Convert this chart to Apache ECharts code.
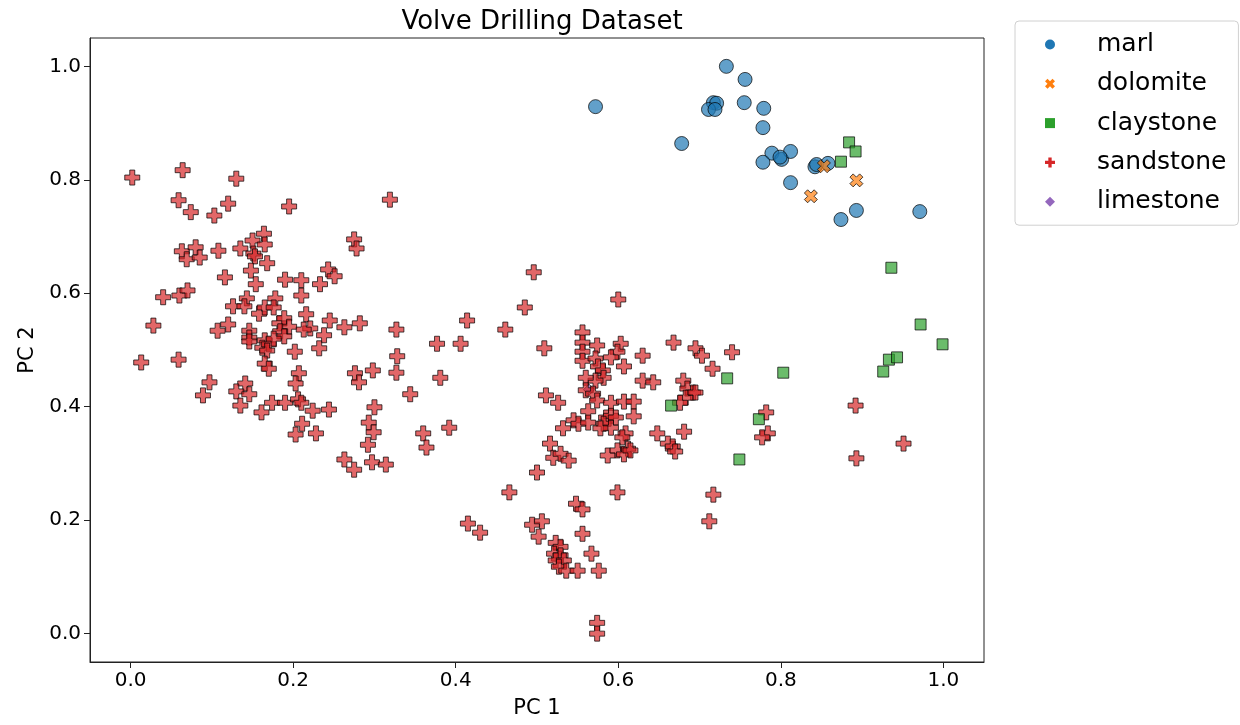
<!DOCTYPE html>
<html>
<head>
<meta charset="utf-8">
<script src="https://cdn.jsdelivr.net/npm/echarts@6/dist/echarts.min.js"></script>
<style>
html,body{margin:0;padding:0;background:#fff;}
#chart{width:1240px;height:725px;}
</style>
</head>
<body>
<div id="chart"></div>
<script>
const categories = ['marl', 'dolomite', 'claystone', 'sandstone', 'limestone'];
const tickValues = [0, 0.2, 0.4, 0.6, 0.8, 1.0];

const marlPoints = [
  [0.572,0.929],[0.678,0.864],[0.733,1.0],[0.756,0.977],[0.717,0.936],[0.721,0.935],
  [0.711,0.924],[0.719,0.924],[0.755,0.936],[0.779,0.926],[0.778,0.892],[0.789,0.847],
  [0.801,0.836],[0.812,0.850],[0.778,0.831],[0.799,0.840],[0.842,0.823],[0.844,0.827],
  [0.858,0.829],[0.812,0.795],[0.874,0.730],[0.893,0.746],[0.971,0.744]
];
const dolomitePoints = [[0.853,0.824],[0.893,0.799],[0.837,0.771]];
const claystonePoints = [
  [0.884,0.866],[0.892,0.850],[0.874,0.832],[0.936,0.645],[0.972,0.545],[0.999,0.510],
  [0.933,0.483],[0.943,0.487],[0.926,0.462],[0.803,0.460],[0.734,0.450],[0.773,0.378],
  [0.749,0.307],[0.665,0.402]
];
const limestonePoints = [[0.564,0.430]];
const sandstonePoints = [
  [0.002,0.804],[0.064,0.817],[0.130,0.802],[0.059,0.764],[0.074,0.743],[0.120,0.758],
  [0.103,0.737],[0.195,0.753],[0.319,0.765],[0.164,0.705],[0.150,0.693],[0.165,0.686],
  [0.275,0.695],[0.278,0.679],[0.063,0.674],[0.080,0.681],[0.108,0.675],[0.135,0.679],
  [0.069,0.660],[0.085,0.663],[0.151,0.670],[0.153,0.665],[0.168,0.653],[0.148,0.640],
  [0.116,0.628],[0.154,0.616],[0.190,0.624],[0.210,0.623],[0.233,0.616],[0.243,0.642],
  [0.251,0.630],[0.210,0.596],[0.040,0.593],[0.060,0.596],[0.070,0.605],[0.126,0.577],
  [0.143,0.591],[0.140,0.577],[0.158,0.564],[0.165,0.575],[0.178,0.591],[0.176,0.575],
  [0.216,0.563],[0.245,0.552],[0.263,0.540],[0.282,0.547],[0.028,0.543],[0.120,0.545],
  [0.183,0.547],[0.189,0.556],[0.195,0.541],[0.221,0.538],[0.213,0.536],[0.107,0.534],
  [0.146,0.534],[0.184,0.533],[0.189,0.524],[0.146,0.522],[0.146,0.515],[0.165,0.517],
  [0.162,0.504],[0.170,0.510],[0.176,0.520],[0.168,0.499],[0.238,0.526],[0.202,0.497],
  [0.232,0.503],[0.013,0.478],[0.059,0.483],[0.165,0.476],[0.170,0.467],[0.207,0.459],
  [0.203,0.441],[0.097,0.443],[0.089,0.420],[0.141,0.441],[0.130,0.427],[0.146,0.422],
  [0.135,0.402],[0.161,0.390],[0.174,0.407],[0.190,0.407],[0.206,0.413],[0.210,0.407],
  [0.224,0.393],[0.244,0.395],[0.211,0.370],[0.203,0.351],[0.228,0.353],[0.276,0.459],
  [0.281,0.443],[0.298,0.464],[0.300,0.399],[0.293,0.372],[0.299,0.355],[0.292,0.333],
  [0.263,0.307],[0.275,0.289],[0.297,0.302],[0.314,0.298],[0.496,0.637],[0.414,0.552],
  [0.461,0.536],[0.327,0.536],[0.377,0.511],[0.406,0.511],[0.328,0.489],[0.327,0.460],
  [0.381,0.451],[0.344,0.422],[0.360,0.353],[0.364,0.328],[0.392,0.363],[0.485,0.575],
  [0.600,0.589],[0.509,0.503],[0.556,0.531],[0.556,0.513],[0.556,0.497],[0.556,0.481],
  [0.574,0.508],[0.603,0.511],[0.599,0.497],[0.591,0.487],[0.607,0.471],[0.572,0.485],
  [0.575,0.471],[0.581,0.464],[0.582,0.451],[0.572,0.446],[0.560,0.451],[0.560,0.429],
  [0.569,0.423],[0.630,0.490],[0.668,0.513],[0.695,0.503],[0.703,0.490],[0.716,0.467],
  [0.630,0.446],[0.643,0.443],[0.680,0.446],[0.685,0.432],[0.692,0.425],[0.683,0.416],
  [0.676,0.407],[0.511,0.420],[0.526,0.407],[0.574,0.411],[0.591,0.407],[0.607,0.409],
  [0.619,0.409],[0.563,0.392],[0.545,0.376],[0.551,0.370],[0.563,0.372],[0.532,0.362],
  [0.585,0.381],[0.591,0.384],[0.597,0.381],[0.582,0.370],[0.591,0.363],[0.578,0.362],
  [0.619,0.383],[0.609,0.353],[0.605,0.346],[0.648,0.353],[0.681,0.356],[0.661,0.335],
  [0.667,0.330],[0.670,0.321],[0.516,0.335],[0.520,0.310],[0.529,0.317],[0.539,0.305],
  [0.587,0.314],[0.599,0.323],[0.612,0.326],[0.607,0.316],[0.615,0.323],[0.500,0.284],
  [0.740,0.496],[0.695,0.425],[0.782,0.390],[0.784,0.353],[0.777,0.346],[0.892,0.402],
  [0.951,0.335],[0.893,0.309],[0.717,0.245],[0.712,0.198],[0.466,0.249],[0.599,0.249],
  [0.415,0.194],[0.430,0.178],[0.548,0.229],[0.556,0.219],[0.494,0.192],[0.506,0.198],
  [0.502,0.171],[0.556,0.176],[0.567,0.141],[0.576,0.111],[0.523,0.160],[0.529,0.153],
  [0.521,0.141],[0.529,0.138],[0.523,0.129],[0.533,0.129],[0.527,0.118],[0.536,0.111],
  [0.550,0.111],[0.574,0.019],[0.574,0.000]
];

const FONT = 'DejaVu Sans';
const colors = {
  marl: '#1f77b4', dolomite: '#ff7f0e', claystone: '#2ca02c',
  sandstone: '#d62728', limestone: '#9467bd'
};
const plusPath = 'path://M1,0L2,0L2,1L3,1L3,2L2,2L2,3L1,3L1,2L0,2L0,1L1,1Z';
const xPath = 'path://M1,0L2,1L3,0L4,1L3,2L4,3L3,4L2,3L1,4L0,3L1,2L0,1Z';
const symbols = {
  marl: ['circle', 14],
  dolomite: [xPath, 13],
  claystone: ['rect', 11],
  sandstone: [plusPath, 15],
  limestone: ['diamond', 11]
};
const dataByName = {
  marl: marlPoints, dolomite: dolomitePoints, claystone: claystonePoints,
  sandstone: sandstonePoints, limestone: limestonePoints
};
const zOrder = { limestone: 1, sandstone: 2, marl: 3, dolomite: 4, claystone: 5 };

const series = categories.map(name => ({
  name: name,
  type: 'scatter',
  data: dataByName[name],
  symbol: symbols[name][0],
  symbolSize: symbols[name][1],
  z: zOrder[name] + 2,
  itemStyle: {
    color: colors[name],
    opacity: 0.7,
    borderColor: '#000',
    borderWidth: 1
  },
  emphasis: { disabled: true }
}));

const axisCommon = {
  type: 'value',
  min: -0.05,
  max: 1.05,
  splitLine: { show: false },
  axisLine: { show: true, onZero: false, lineStyle: { color: '#222', width: 1 } },
  axisTick: { show: true, inside: false, length: 6, lineStyle: { color: '#222' }, customValues: tickValues },
  axisLabel: {
    customValues: tickValues,
    formatter: v => v.toFixed(1),
    fontFamily: FONT, fontSize: 20, color: '#000', margin: 9
  },
  nameLocation: 'middle',
  nameTextStyle: { fontFamily: FONT, fontSize: 21, color: '#000' }
};

const chart = echarts.init(document.getElementById('chart'), null, { renderer: 'canvas' });
chart.setOption({
  animation: false,
  backgroundColor: '#fff',
  title: {
    text: 'Volve Drilling Dataset',
    left: 537, top: 4,
    textAlign: 'center',
    textStyle: { fontFamily: FONT, fontSize: 26, fontWeight: 'normal', color: '#000' }
  },
  grid: {
    left: 90, right: 256, top: 38, bottom: 63,
    show: true, borderColor: '#222', borderWidth: 1, backgroundColor: 'transparent'
  },
  xAxis: Object.assign({}, axisCommon, { name: 'PC 1', nameGap: 36 }),
  yAxis: Object.assign({}, axisCommon, { name: 'PC 2', nameGap: 52 }),
  legend: {
    orient: 'vertical',
    left: 1015, top: 21,
    padding: [11, 12, 11, 30],
    itemGap: 14.3,
    itemWidth: 10,
    itemHeight: 10,
    borderColor: '#d0d0d0', borderWidth: 1, borderRadius: 4,
    backgroundColor: '#fff',
    itemStyle: { opacity: 1, borderWidth: 0 },
    textStyle: { fontFamily: FONT, fontSize: 25, color: '#000', lineHeight: 25, padding: [0, 0, 0, 37] },
    data: categories.map(name => ({ name: name, icon: symbols[name][0], itemStyle: { color: colors[name], opacity: 1, borderWidth: 0 } })),
    selectedMode: false
  },
  series: series
});
</script>
</body>
</html>
